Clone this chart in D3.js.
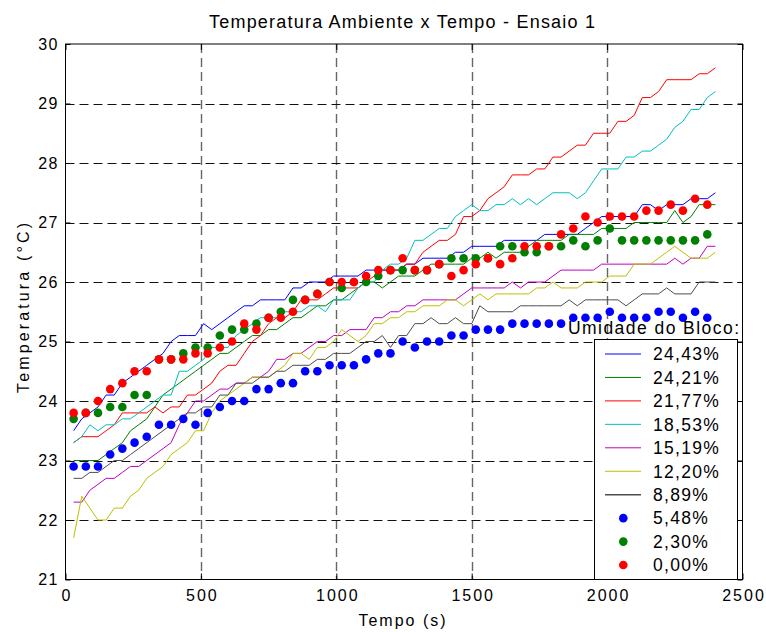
<!DOCTYPE html>
<html>
<head>
<meta charset="utf-8">
<script src="https://cdn.jsdelivr.net/npm/d3@7/dist/d3.min.js"></script>
<style>
  html, body { margin: 0; padding: 0; background: #fff; }
  svg { display: block; font-family: "Liberation Sans", Arial, Helvetica, sans-serif; }
</style>
</head>
<body>
<svg id="chart" width="766" height="632"></svg>
<script>
// Sampling instants (s): lines logged every 30 s, markers every 45 s
const timeLines = d3.range(30, 2401, 30);
const timeDots = d3.range(30, 2371, 45);

// Block moisture series (°C)
const u2443 = [23.5,23.7,23.8,23.9,24.1,24.1,24.3,24.4,24.5,24.6,24.7,24.8,25.0,25.1,25.1,25.1,25.3,25.2,25.3,25.4,25.5,25.6,25.6,25.7,25.7,25.7,25.7,25.9,
  25.9,26.0,26.0,26.0,26.1,26.1,26.1,26.1,26.2,26.2,26.2,26.2,26.2,26.3,26.3,26.4,26.4,26.4,26.4,26.5,26.5,26.6,26.6,26.6,26.6,26.7,26.7,26.7,26.7,
  26.7,26.8,26.8,26.8,26.8,26.8,26.9,27.0,27.1,27.1,27.1,27.1,27.1,27.3,27.3,27.2,27.3,27.3,27.3,27.4,27.4,27.4,27.5];
const u2421 = [23.0,23.0,23.0,23.0,23.1,23.2,23.3,23.5,23.6,23.7,23.9,24.1,24.2,24.3,24.4,24.5,24.6,24.7,24.8,24.8,24.9,25.0,25.1,25.1,25.2,25.2,25.3,25.4,
  25.4,25.5,25.6,25.6,25.7,25.7,25.8,25.9,26.0,26.0,25.9,26.0,26.1,26.1,26.1,26.2,26.3,26.3,26.3,26.3,26.3,26.4,26.4,26.5,26.4,26.5,26.5,26.5,26.6,
  26.7,26.7,26.7,26.7,26.8,26.8,26.8,26.8,26.9,26.9,26.9,26.9,27.0,27.0,27.0,27.0,27.0,27.2,27.0,27.1,27.3,27.3,27.3];
const u2177 = [23.3,23.4,23.4,23.4,23.5,23.6,23.8,23.8,23.8,23.8,23.9,23.8,23.9,23.9,24.1,24.1,24.2,24.3,24.5,24.6,24.6,24.8,25.0,25.1,25.3,25.4,25.4,25.5,
  25.7,25.7,25.7,25.8,25.9,25.9,25.9,25.9,26.0,26.1,26.2,26.2,26.2,26.3,26.3,26.5,26.6,26.7,26.7,26.8,27.1,27.1,27.2,27.4,27.5,27.6,27.8,27.8,27.8,
  27.9,27.9,28.1,28.1,28.2,28.3,28.3,28.5,28.5,28.5,28.7,28.7,28.8,29.1,29.1,29.2,29.4,29.4,29.4,29.4,29.5,29.5,29.6];
const u1853 = [23.3,23.4,23.6,23.5,23.6,23.6,23.7,23.7,23.8,23.9,24.0,24.1,24.1,24.5,24.5,24.6,24.7,24.9,24.9,24.9,25.1,25.2,25.3,25.4,25.4,25.4,25.5,25.5,
  25.5,25.6,25.6,25.5,25.7,25.7,25.7,25.9,26.0,26.0,26.2,26.3,26.3,26.4,26.7,26.7,26.8,26.9,26.9,27.1,27.2,27.3,27.2,27.2,27.3,27.3,27.4,27.3,27.4,
  27.3,27.4,27.5,27.5,27.5,27.4,27.5,27.7,27.9,27.9,27.9,28.1,28.1,28.2,28.2,28.3,28.4,28.6,28.7,28.9,28.9,29.1,29.2];
const u1519 = [22.3,22.3,22.5,22.6,22.7,22.7,22.8,22.9,22.9,23.0,23.1,23.2,23.3,23.6,23.8,24.0,24.0,24.1,24.2,24.2,24.3,24.3,24.4,24.4,24.5,24.7,24.7,24.8,
  24.8,24.9,25.0,25.0,25.1,25.1,25.2,25.2,25.2,25.4,25.4,25.5,25.5,25.6,25.6,25.7,25.7,25.7,25.7,25.7,25.8,25.9,25.9,25.9,25.9,25.9,26.0,25.9,26.0,
  26.0,26.0,26.1,26.2,26.2,26.2,26.2,26.2,26.3,26.3,26.3,26.3,26.3,26.3,26.3,26.3,26.3,26.4,26.3,26.4,26.4,26.6,26.6];
const u1220 = [21.7,22.4,22.2,22.0,22.0,22.2,22.2,22.4,22.5,22.7,22.8,22.9,23.1,23.2,23.3,23.5,23.5,23.8,24.0,24.1,24.2,24.3,24.4,24.4,24.4,24.5,24.6,24.8,
  24.8,24.7,24.9,24.9,25.0,25.2,25.1,25.0,25.1,25.3,25.3,25.4,25.4,25.5,25.5,25.6,25.6,25.6,25.7,25.7,25.6,25.7,25.8,25.7,25.8,25.8,25.8,25.8,25.8,
  25.9,25.9,26.0,25.9,25.9,25.9,26.0,26.0,26.0,26.1,26.1,26.1,26.3,26.3,26.3,26.4,26.5,26.6,26.5,26.4,26.4,26.4,26.5];
const u889 = [22.7,22.7,22.8,22.8,22.9,23.0,23.0,23.1,23.2,23.3,23.4,23.5,23.6,23.7,23.8,23.8,23.9,23.9,24.1,24.1,24.3,24.3,24.3,24.4,24.4,24.5,24.5,24.6,
  24.6,24.6,24.7,24.7,24.8,24.8,24.8,24.9,25.0,25.0,25.1,24.9,25.1,25.1,25.3,25.3,25.4,25.3,25.3,25.4,25.3,25.3,25.6,25.5,25.5,25.5,25.5,25.6,25.6,
  25.6,25.6,25.6,25.6,25.7,25.6,25.7,25.7,25.7,25.7,25.7,25.6,25.7,25.8,25.8,25.8,25.9,25.8,25.8,25.8,26.0,26.0,26.0];
const u548 = [22.9,22.9,22.9,23.1,23.2,23.3,23.4,23.6,23.6,23.7,23.6,23.8,23.9,24.0,24.0,24.2,24.2,24.3,24.3,
  24.5,24.5,24.6,24.6,24.6,24.7,24.8,24.8,25.0,24.9,25.0,25.0,25.1,25.1,25.2,25.2,
  25.2,25.3,25.3,25.3,25.3,25.3,25.4,25.4,25.4,25.5,25.4,25.4,25.4,25.5,25.5,25.4,25.5,25.4];
const u230 = [23.7,23.8,23.8,23.9,23.9,24.1,24.1,24.7,24.7,24.8,24.9,24.9,25.1,25.2,25.2,25.3,25.4,25.5,25.7,
  25.7,25.8,26.0,25.9,26.0,26.0,26.1,26.2,26.2,26.2,26.2,26.3,26.4,26.4,26.4,26.4,
  26.6,26.6,26.5,26.5,26.6,26.6,26.7,26.6,26.7,26.9,26.7,26.7,26.7,26.7,26.7,26.7,26.7,26.8];
const u000 = [23.8,23.8,24.0,24.2,24.3,24.5,24.5,24.7,24.7,24.7,24.8,24.8,24.9,25.0,25.3,25.2,25.4,25.4,25.5,
  25.7,25.8,26.0,26.0,26.0,26.1,26.2,26.2,26.4,26.2,26.2,26.3,26.1,26.2,26.3,26.4,
  26.3,26.4,26.6,26.6,26.6,26.8,26.9,27.1,27.0,27.1,27.1,27.1,27.2,27.2,27.3,27.2,27.4,27.3];

const xTicks = [0, 500, 1000, 1500, 2000, 2500];
const yTicks = [21, 22, 23, 24, 25, 26, 27, 28, 29, 30];

const lineSeries = [
  { label: "24,43%", values: u2443, color: "#0000ff" },
  { label: "24,21%", values: u2421, color: "#008000" },
  { label: "21,77%", values: u2177, color: "#ff0000" },
  { label: "18,53%", values: u1853, color: "#00bfbf" },
  { label: "15,19%", values: u1519, color: "#bf00bf" },
  { label: "12,20%", values: u1220, color: "#bfbf00" },
  { label: "8,89%",  values: u889,  color: "#4d4d4d" }
];
const dotSeries = [
  { label: "5,48%", values: u548, color: "#0000ff" },
  { label: "2,30%", values: u230, color: "#008000" },
  { label: "0,00%", values: u000, color: "#ff0000" }
];

const svg = d3.select("#chart");
const L = 65.5, R = 742.5, T = 44, B = 579.5;
const x = d3.scaleLinear().domain([0, 2500]).range([L, R]);
const y = d3.scaleLinear().domain([21, 30]).range([B, T]);

svg.append("rect").attr("width", 766).attr("height", 632).attr("fill", "#fff");

// dashed grid
const grid = svg.append("g");
grid.selectAll("line.gx").data(xTicks.slice(1, -1)).join("line")
  .attr("x1", d => Math.round(x(d)) + 0.5).attr("x2", d => Math.round(x(d)) + 0.5)
  .attr("y1", T).attr("y2", B)
  .attr("stroke", "#666").attr("stroke-width", 1.4).attr("stroke-dasharray", "9,5");
grid.selectAll("line.gy").data(yTicks.slice(1, -1)).join("line")
  .attr("x1", L).attr("x2", R)
  .attr("y1", d => Math.round(y(d)) + 0.5).attr("y2", d => Math.round(y(d)) + 0.5)
  .attr("stroke", "#111").attr("stroke-width", 1).attr("stroke-dasharray", "9,5");

// curves
const line = d3.line().x((d, i) => x(timeLines[i])).y(d => y(d));
svg.append("g").selectAll("path").data(lineSeries).join("path")
  .attr("d", s => line(s.values))
  .attr("fill", "none").attr("stroke", s => s.color).attr("stroke-width", 1);

// markers
dotSeries.forEach(s => {
  svg.append("g").selectAll("circle").data(s.values).join("circle")
    .attr("cx", (d, i) => x(timeDots[i])).attr("cy", d => y(d))
    .attr("r", 4.3).attr("fill", s.color);
});

// axes with inward ticks
const tickStyle = g => {
  g.select(".domain").remove();
  g.selectAll(".tick line").attr("stroke", "#000");
};
svg.append("g").attr("transform", `translate(0,${B})`)
  .call(d3.axisBottom(x).tickValues(xTicks).tickSizeInner(-6).tickSizeOuter(0).tickPadding(10.6).tickFormat(d3.format("d")))
  .call(tickStyle)
  .call(g => g.selectAll("text").attr("font-size", 16).attr("fill", "#000")
    .style("letter-spacing", "2px").attr("dx", 1).attr("font-family", null));
svg.append("g").attr("transform", `translate(0,${T})`)
  .call(d3.axisTop(x).tickValues(xTicks).tickSizeInner(-6).tickSizeOuter(0).tickFormat(""))
  .call(tickStyle);
svg.append("g").attr("transform", `translate(${L},0)`)
  .call(d3.axisLeft(y).tickValues(yTicks).tickSizeInner(-5).tickSizeOuter(0).tickPadding(6.5).tickFormat(d3.format("d")))
  .call(tickStyle)
  .call(g => g.selectAll("text").attr("font-size", 16).attr("fill", "#000")
    .style("letter-spacing", "1.5px").attr("font-family", null));
svg.append("g").attr("transform", `translate(${R},0)`)
  .call(d3.axisRight(y).tickValues(yTicks).tickSizeInner(-5).tickSizeOuter(0).tickFormat(""))
  .call(tickStyle);

svg.append("rect").attr("x", L).attr("y", T).attr("width", R - L).attr("height", B - T)
  .attr("fill", "none").attr("stroke", "#000").attr("stroke-width", 1);

// titles
svg.append("text").attr("x", 209).attr("y", 28.3)
  .attr("font-size", 18).attr("textLength", 386).attr("lengthAdjust", "spacing")
  .text("Temperatura Ambiente x Tempo - Ensaio 1");
svg.append("text").attr("x", 403).attr("y", 626).attr("text-anchor", "middle")
  .attr("font-size", 16).style("letter-spacing", "2px")
  .text("Tempo (s)");
svg.append("text").attr("transform", "translate(29.3,308) rotate(-90)").attr("text-anchor", "middle")
  .attr("font-size", 16).attr("textLength", 170).attr("lengthAdjust", "spacing")
  .text("Temperatura (°C)");

// legend
const lg = svg.append("g");
lg.append("text").attr("x", 568).attr("y", 334)
  .attr("font-size", 17.5).attr("textLength", 171).attr("lengthAdjust", "spacing")
  .text("Umidade do Bloco:");
lg.append("rect").attr("x", 594.5).attr("y", 339.5).attr("width", 143).attr("height", 240)
  .attr("fill", "#fff").attr("stroke", "#000").attr("stroke-width", 1);
const entries = lineSeries.map(s => ({ ...s, kind: "line" }))
  .concat(dotSeries.map(s => ({ ...s, kind: "dot" })));
const rowY = i => 354 + i * 23.45;
entries.forEach((e, i) => {
  const cy = rowY(i);
  if (e.kind === "line") {
    lg.append("line").attr("x1", 605).attr("x2", 641).attr("y1", cy).attr("y2", cy)
      .attr("stroke", e.color).attr("stroke-width", e.label === "8,89%" ? 1.6 : 1);
  } else {
    lg.append("circle").attr("cx", 623.3).attr("cy", cy).attr("r", 4.3).attr("fill", e.color);
  }
  lg.append("text").attr("x", 653).attr("y", cy + 6.3)
    .attr("font-size", 17.5).style("letter-spacing", "1.3px")
    .text(e.label);
});
</script>
</body>
</html>
